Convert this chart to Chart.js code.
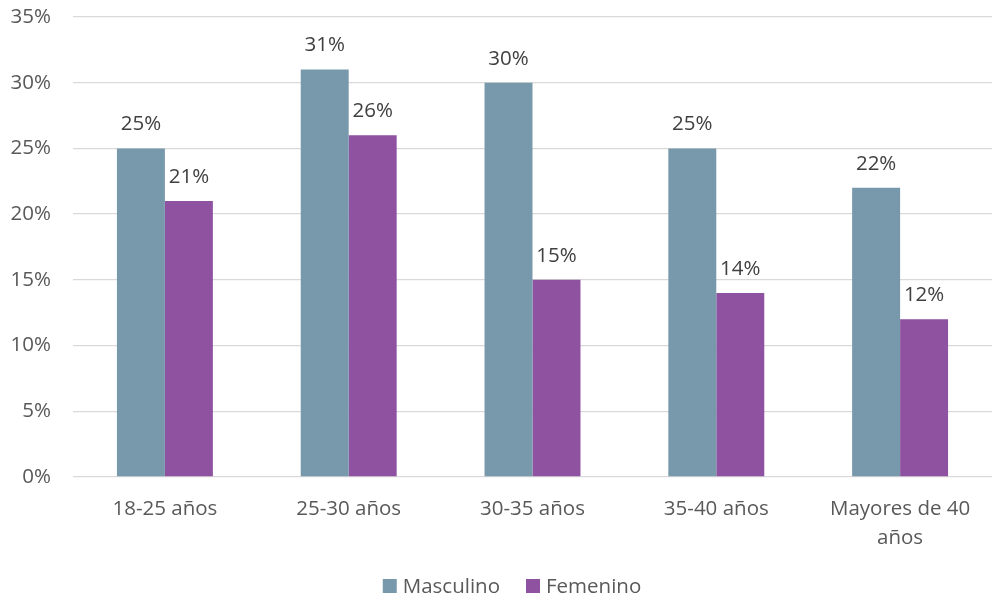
<!DOCTYPE html>
<html>
<head>
<meta charset="utf-8">
<script src="https://cdn.jsdelivr.net/npm/chart.js@4/dist/chart.umd.min.js"></script>
<style>
  html, body { margin: 0; padding: 0; background: #ffffff; overflow: hidden; }
  canvas { display: block; }
</style>
</head>
<body>
<canvas id="chart" width="992" height="603"></canvas>
<script>
// Age groups and share of respondents by gender (percent)
const categories = ['18-25 años', '25-30 años', '30-35 años', '35-40 años', ['Mayores de 40', 'años']];
const masculino = [25, 31, 30, 25, 22];
const femenino = [21, 26, 15, 14, 12];
const yTicks = [0, 5, 10, 15, 20, 25, 30, 35];

const FONT = "'Open Sans', 'Noto Sans', sans-serif";
const FONT_SIZE = 20.5;

// Writes each bar's value above it
const valueLabels = {
  id: 'valueLabels',
  afterDatasetsDraw(chart) {
    const ctx = chart.ctx;
    ctx.save();
    ctx.font = FONT_SIZE + 'px ' + FONT;
    ctx.fillStyle = '#404040';
    ctx.textAlign = 'center';
    ctx.textBaseline = 'middle';
    chart.data.datasets.forEach((ds, i) => {
      chart.getDatasetMeta(i).data.forEach((bar, j) => {
        ctx.fillText(ds.data[j] + '%', bar.x, bar.y - 24);
      });
    });
    ctx.restore();
  }
};

// Legend row under the axis: square swatch followed by the series name
const bottomLegend = {
  id: 'bottomLegend',
  afterDraw(chart) {
    const ctx = chart.ctx;
    ctx.save();
    ctx.font = FONT_SIZE + 'px ' + FONT;
    ctx.textBaseline = 'middle';
    ctx.textAlign = 'left';
    const box = 14, gap = 6, itemGap = 26, cy = 586;
    const widths = chart.data.datasets.map(ds => ctx.measureText(ds.label).width);
    const total = widths.reduce((s, w) => s + box + gap + w, 0) + itemGap * (widths.length - 1);
    let x = 512 - total / 2;
    chart.data.datasets.forEach((ds, i) => {
      ctx.fillStyle = ds.backgroundColor;
      ctx.fillRect(x, cy - box / 2, box, box);
      x += box + gap;
      ctx.fillStyle = '#595959';
      ctx.fillText(ds.label, x, cy + 1);
      x += widths[i] + itemGap;
    });
    ctx.restore();
  }
};

new Chart(document.getElementById('chart'), {
  type: 'bar',
  data: {
    labels: categories,
    datasets: [
      { label: 'Masculino', data: masculino, backgroundColor: '#7899AB', barPercentage: 1.0, categoryPercentage: 0.522 },
      { label: 'Femenino', data: femenino, backgroundColor: '#8E52A0', barPercentage: 1.0, categoryPercentage: 0.522 }
    ]
  },
  options: {
    responsive: false,
    animation: false,
    layout: { autoPadding: false, padding: { top: 17, left: 0, right: 0, bottom: 34 } },
    plugins: {
      tooltip: { enabled: false },
      legend: { display: false }
    },
    scales: {
      x: {
        grid: { display: false, drawTicks: false },
        border: { display: false },
        ticks: {
          font: { family: FONT, size: FONT_SIZE, lineHeight: 1.45 },
          color: '#595959',
          padding: 17,
          maxRotation: 0,
          autoSkip: false
        },
        afterFit(scale) { scale.height = 92; }
      },
      y: {
        min: 0,
        max: 35,
        afterBuildTicks(scale) { scale.ticks = yTicks.map(v => ({ value: v })); },
        grid: { color: '#d9d9d9', lineWidth: 1.3, drawTicks: false },
        border: { display: false },
        ticks: {
          font: { family: FONT, size: FONT_SIZE },
          color: '#595959',
          padding: 22,
          callback: v => v + '%'
        },
        afterFit(scale) {
          scale.width = 73;
          scale.paddingTop = 0;
          scale.paddingBottom = 0;
        }
      }
    }
  },
  plugins: [valueLabels, bottomLegend]
});
</script>
</body>
</html>
